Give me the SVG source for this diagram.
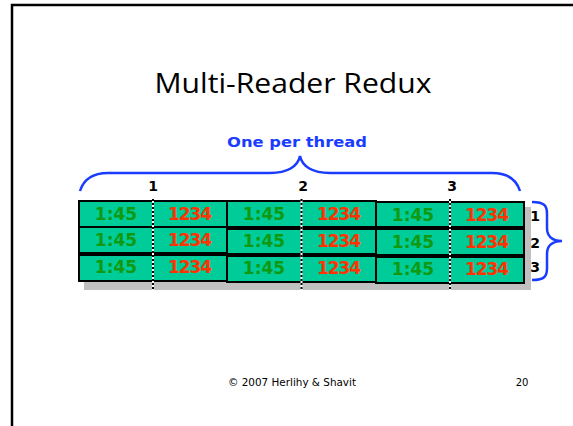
<svg xmlns="http://www.w3.org/2000/svg" width="573" height="426" viewBox="0 0 573 426">
<style>
.cell{fill:#00cc99;stroke:#000;stroke-width:2}
.g{fill:#119911;font-family:"DejaVu Sans",sans-serif;font-weight:bold;font-size:17px;text-anchor:middle}
.r{fill:#ff3300;font-family:"DejaVu Sans",sans-serif;font-weight:bold;font-size:17px;text-anchor:middle}
.lbl{fill:#000;font-family:"DejaVu Sans",sans-serif;font-weight:bold;font-size:14px;text-anchor:middle}
.brace{fill:none;stroke:#1a3cff;stroke-width:2.5}
.divw{stroke:#fff;stroke-width:2}
.divb{stroke:#000;stroke-width:2;stroke-dasharray:2 2}
</style>
<rect width="573" height="426" fill="#fff"/>
<path d="M12,426 V5 H573" fill="none" stroke="#000" stroke-width="2.5"/>
<text x="293" y="93" font-family="Open Sans, sans-serif" font-size="28" text-anchor="middle" fill="#000" textLength="277" lengthAdjust="spacingAndGlyphs">Multi-Reader Redux</text>
<text x="297" y="147" font-family="DejaVu Sans, sans-serif" font-weight="bold" font-size="14" text-anchor="middle" fill="#1a3cff" textLength="140" lengthAdjust="spacingAndGlyphs">One per thread</text>
<g id="connectors">
<path class="brace" d="M80,191 C84,178 95,173 108,173 H270 C288,173 298,166 300,156 C302,166 312,173 330,173 H492 C505,173 516,178 520,191"/>
<path class="brace" d="M532,202 C545,202 547,206 547,214 V228 C547,236 552,241 562,241 C552,241 547,246 547,254 V268 C547,276 545,280 532,280"/>
</g>
<rect x="84" y="207" width="447" height="83" fill="#c0c0c0"/>
<g id="block1">
<rect class="cell" x="79" y="201" width="148" height="26"/>
<rect class="cell" x="79" y="227" width="148" height="26"/>
<rect class="cell" x="79" y="255" width="148" height="26"/>
<text class="g" x="116" y="220">1:45</text><text class="r" x="190" y="220" textLength="44">1234</text>
<text class="g" x="116" y="246">1:45</text><text class="r" x="190" y="246" textLength="44">1234</text>
<text class="g" x="116" y="273">1:45</text><text class="r" x="190" y="273" textLength="44">1234</text>
</g>
<g id="block2">
<rect class="cell" x="227" y="201" width="149" height="26"/>
<rect class="cell" x="227" y="229" width="149" height="25"/>
<rect class="cell" x="227" y="256" width="149" height="26"/>
<text class="g" x="264" y="220">1:45</text><text class="r" x="339" y="220" textLength="44">1234</text>
<text class="g" x="264" y="247">1:45</text><text class="r" x="339" y="247" textLength="44">1234</text>
<text class="g" x="264" y="274">1:45</text><text class="r" x="339" y="274" textLength="44">1234</text>
</g>
<g id="block3">
<rect class="cell" x="376" y="202" width="148" height="25"/>
<rect class="cell" x="376" y="229" width="148" height="26"/>
<rect class="cell" x="376" y="257" width="148" height="26"/>
<text class="g" x="413" y="221">1:45</text><text class="r" x="487" y="221" textLength="44">1234</text>
<text class="g" x="413" y="248">1:45</text><text class="r" x="487" y="248" textLength="44">1234</text>
<text class="g" x="413" y="275">1:45</text><text class="r" x="487" y="275" textLength="44">1234</text>
</g>
<g id="dividers">
<line class="divw" x1="153" y1="199" x2="153" y2="291"/><line class="divb" x1="153" y1="199" x2="153" y2="291"/>
<line class="divw" x1="301.5" y1="199" x2="301.5" y2="291"/><line class="divb" x1="301.5" y1="199" x2="301.5" y2="291"/>
<line class="divw" x1="450" y1="199" x2="450" y2="291"/><line class="divb" x1="450" y1="199" x2="450" y2="291"/>
</g>
<g id="labels">
<text class="lbl" x="153" y="191">1</text>
<text class="lbl" x="303" y="191">2</text>
<text class="lbl" x="452" y="191">3</text>
<text class="lbl" x="535" y="221">1</text>
<text class="lbl" x="535" y="248">2</text>
<text class="lbl" x="535" y="272">3</text>
</g>
<text x="292" y="386" font-family="DejaVu Sans, sans-serif" font-size="10" text-anchor="middle" fill="#000" textLength="128" lengthAdjust="spacingAndGlyphs">© 2007 Herlihy &amp; Shavit</text>
<text x="522" y="386" font-family="DejaVu Sans, sans-serif" font-size="10" text-anchor="middle" fill="#000">20</text>
</svg>
